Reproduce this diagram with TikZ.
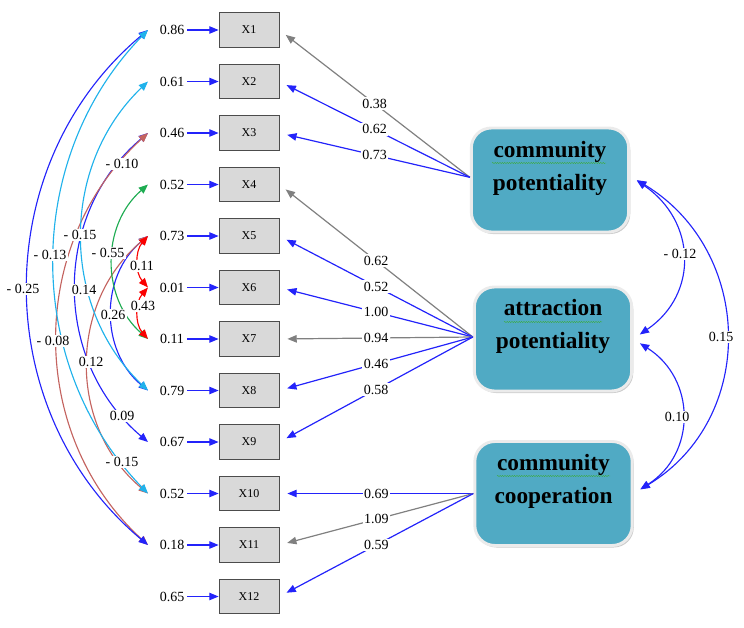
\documentclass[tikz,border=0pt]{standalone}
\usepackage{fontspec}
\setmainfont{Liberation Serif}
\usetikzlibrary{arrows.meta,decorations.pathmorphing,shadows}
\definecolor{ablue}{RGB}{35,35,250}
\definecolor{acyan}{RGB}{32,178,235}
\definecolor{abrown}{RGB}{196,100,96}
\definecolor{agreen}{RGB}{30,172,82}
\definecolor{ared}{RGB}{250,0,0}
\definecolor{agray}{RGB}{128,128,128}
\definecolor{facfill}{RGB}{80,170,196}
\definecolor{boxfill}{RGB}{217,217,217}
\definecolor{squig}{RGB}{60,170,60}
\begin{document}
\begin{tikzpicture}[x=0.75pt,y=-0.75pt,
  obs/.style={draw=black!70, fill=boxfill, line width=0.6pt, minimum width=45pt, minimum height=26pt, inner sep=0pt, font=\fontsize{9}{10}\selectfont},
  val/.style={font=\fontsize{10.5}{12}\selectfont, inner sep=2pt, text=black},
  lab/.style={font=\fontsize{10.5}{12}\selectfont, fill=white, inner sep=1.2pt, text=black},
  fac/.style={rounded corners=15pt, fill=facfill, draw=black!8, line width=2.2pt, minimum width=118pt, minimum height=78pt, drop shadow={shadow xshift=1.2pt, shadow yshift=-1.5pt, fill=black!40}},
  factext/.style={font=\fontsize{17.5}{24.75}\selectfont\bfseries, align=center, inner sep=0pt},
  onetip/.style={-{Triangle[length=7pt,width=5.6pt]}},
  twotip/.style={{Triangle[length=7pt,width=5.6pt]}-{Triangle[length=7pt,width=5.6pt]}},
  load/.style={onetip, line width=0.9pt, shorten >=6pt},
  cov/.style={twotip, line width=0.85pt},
  squiggle/.style={squig, line width=0.25pt, decorate, decoration={snake, amplitude=0.5pt, segment length=1.8pt}},
]
\useasboundingbox (0,0) rectangle (744,628);

% observed variables, error values
\foreach \i/\y/\v in {1/30/0.86, 2/81.5/0.61, 3/133/0.46, 4/184.5/0.52, 5/236/0.73, 6/287.5/0.01, 7/339/0.11, 8/390.5/0.79, 9/442/0.67, 10/493.5/0.52, 11/545/0.18, 12/596.5/0.65}{
  \node[obs] (X\i) at (249,\y) {X\i};
  \node[val] (v\i) at (172,\y) {\v};
  \coordinate (c\i) at (148,\y);
  \draw[onetip, ablue, line width=0.9pt] (v\i.east) -- (X\i.west);
}

% latent factors
\node[fac] (F1) at (550,180) {};
\node[fac] (F2) at (553,339) {};
\node[fac] (F3) at (553.5,493.5) {};
\node[factext] (F1t) at (550,168.5) {community\\potentiality};
\node[factext] (F2t) at (553,326.5) {attraction\\potentiality};
\node[factext] (F3t) at (553.5,481.5) {community\\cooperation};
\draw[squiggle] (492,163) -- (606,163);
\draw[squiggle] (504,322) -- (602,322);
\draw[squiggle] (497,476) -- (610,476);

% loadings
\draw[load, agray]  ([yshift=2pt]F1.west) -- node[lab]{0.38} (X1.east);
\draw[load, ablue]  ([yshift=2pt]F1.west) -- node[lab]{0.62} (X2.east);
\draw[load, ablue]  ([yshift=2pt]F1.west) -- node[lab]{0.73} (X3.east);
\draw[load, agray]  ([yshift=1.5pt]F2.west) -- node[lab]{0.62} (X4.east);
\draw[load, ablue]  ([yshift=1.5pt]F2.west) -- node[lab]{0.52} (X5.east);
\draw[load, ablue]  ([yshift=1.5pt]F2.west) -- node[lab]{1.00} (X6.east);
\draw[load, agray]  ([yshift=1.5pt]F2.west) -- node[lab]{0.94} (X7.east);
\draw[load, ablue]  ([yshift=1.5pt]F2.west) -- node[lab]{0.46} (X8.east);
\draw[load, ablue]  ([yshift=1.5pt]F2.west) -- node[lab]{0.58} (X9.east);
\draw[load, ablue]  (F3.west) -- node[lab]{0.69} (X10.east);
\draw[load, agray]  (F3.west) -- node[lab]{1.09} (X11.east);
\draw[load, ablue]  (F3.west) -- node[lab]{0.59} (X12.east);

% factor covariances
\draw[cov, ablue, shorten <=6pt, shorten >=6pt] ([yshift=3pt]F1.east) .. controls +(66,45) and +(66,-45) .. (F2.east);
\draw[cov, ablue, shorten <=6pt, shorten >=6pt] ([yshift=3pt]F1.east) .. controls +(124,75) and +(124,-75) .. (F3.east);
\draw[cov, ablue, shorten <=6pt, shorten >=6pt] (F2.east) .. controls +(63,40) and +(63,-40) .. (F3.east);
\node[lab] (k1) at (680,254) {- 0.12};
\node[lab] (k2) at (721,337) {0.15};
\node[lab] (k3) at (677,417) {0.10};

% error covariances
\draw[cov, ablue]  (c3) .. controls +(-96,81) and +(-96,-81) .. (c9);
\draw[cov, abrown] (c3) .. controls +(-121,111) and +(-121,-111) .. (c11);
\draw[cov, ablue]  (c1) .. controls +(-160,134) and +(-160,-134) .. (c11);
\draw[cov, ablue]  (c5) .. controls +(-48,40) and +(-48,-40) .. (c8);
\draw[cov, abrown] (c5) .. controls +(-80,67) and +(-80,-67) .. (c10);
\draw[cov, acyan]  (c1) .. controls +(-125,129) and +(-125,-129) .. (c10);
\draw[cov, acyan]  (c2) .. controls +(-88,84) and +(-88,-84) .. (c8);
\draw[cov, agreen] (c4) .. controls +(-47,41) and +(-47,-41) .. (c7);
\draw[cov, ared]   (c5) .. controls +(-13,15) and +(-13,-15) .. (c6);
\draw[cov, ared]   (c6) .. controls +(-13,15) and +(-13,-15) .. (c7);

\node[lab] (e1) at (23,289) {- 0.25};
\node[lab] (e2) at (50,255) {- 0.13};
\node[lab] (e3) at (80,235) {- 0.15};
\node[lab] (e4) at (122,164) {- 0.10};
\node[lab] (e5) at (108,253) {- 0.55};
\node[lab] (e6) at (142,266) {0.11};
\node[lab] (e7) at (143,306) {0.43};
\node[lab] (e8) at (113,315) {0.26};
\node[lab] (e9) at (84,290) {0.14};
\node[lab] (e10) at (53,341) {- 0.08};
\node[lab] (e11) at (91,362) {0.12};
\node[lab] (e12) at (122,416) {0.09};
\node[lab] (e13) at (122,462) {- 0.15};
\end{tikzpicture}
\end{document}
